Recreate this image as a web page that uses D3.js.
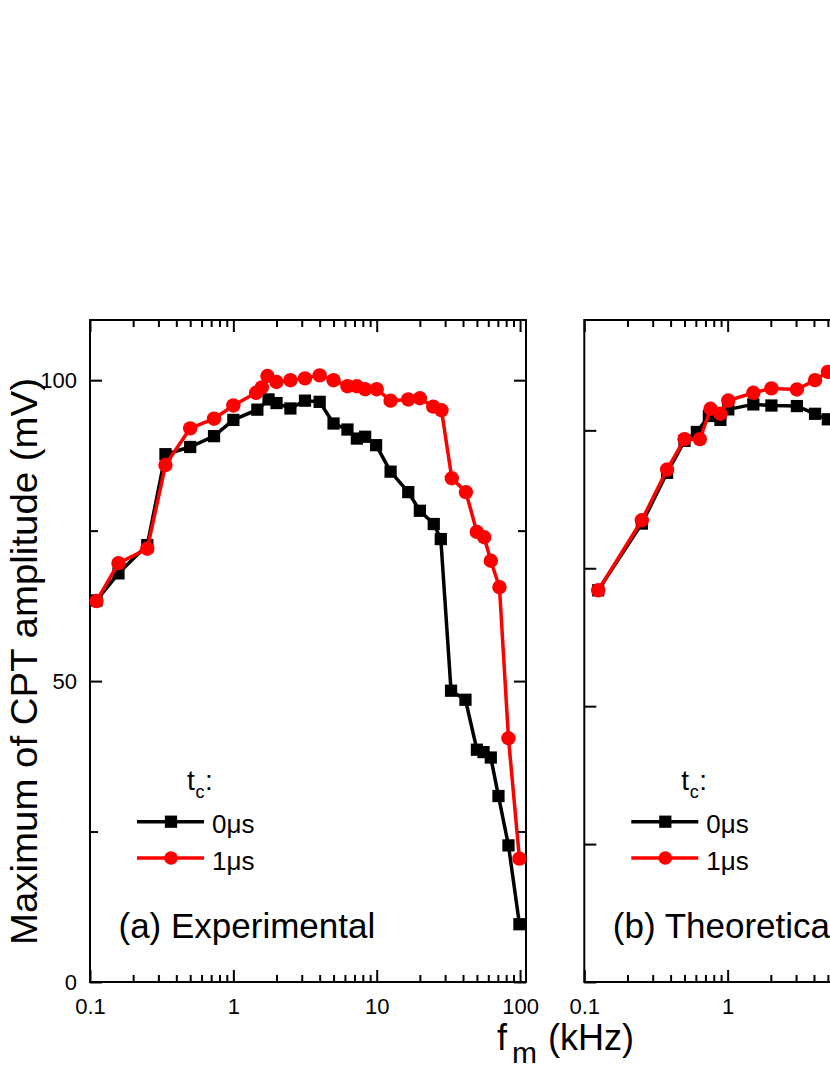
<!DOCTYPE html>
<html><head><meta charset="utf-8">
<script src="https://cdn.jsdelivr.net/npm/d3@7"></script>
<style>
body{margin:0;background:#fff}
svg{display:block}
text{font-family:"Liberation Sans",Arial,Helvetica,sans-serif;fill:#000}
</style>
</head><body>
<svg id="c" width="830" height="1075"></svg>
<script>
// ---------- data ----------
// Panel (a) Experimental
const freqA_0us = [0.111,0.158,0.251,0.336,0.5,0.733,1.0,1.47,1.76,2.0,2.5,3.16,4.0,5.0,6.25,7.27,8.3,9.9,12.5,16.6,20,25,28,33,41.6,50,55.6,62.5,70.7,83,99];
const ampA_0us  = [63.4,67.9,72.6,87.7,88.9,90.7,93.4,95.1,96.8,96.2,95.3,96.6,96.4,92.8,91.8,90.3,90.6,89.2,84.8,81.4,78.3,76.1,73.6,48.4,46.9,38.6,38.2,37.3,30.9,22.7,9.6];
const freqA_1us = [0.111,0.158,0.251,0.336,0.5,0.733,1.0,1.44,1.58,1.73,2.0,2.5,3.16,4.0,5.0,6.25,7.27,8.3,10,12.5,16.6,20,24.8,28.3,33.4,41.9,49.9,56.2,62.5,71.8,83,99];
const ampA_1us  = [63.3,69.6,72.0,85.9,92.0,93.6,95.8,97.9,98.8,100.7,99.7,100.0,100.3,100.8,100.0,99.0,99.0,98.5,98.5,96.6,96.8,97.0,95.6,95.0,83.7,81.4,74.8,73.9,70.0,65.6,40.5,20.5];
// Panel (b) Theoretical (arbitrary units, visible part)
const freqB_0us = [0.125,0.252,0.378,0.5,0.61,0.74,0.89,1.01,1.51,2.02,3.04,4.07,5.0];
const ampB_0us  = [0.710,0.831,0.923,0.981,0.997,1.026,1.019,1.038,1.047,1.045,1.044,1.030,1.020];
const freqB_1us = [0.125,0.252,0.378,0.5,0.64,0.76,0.89,1.01,1.51,2.02,3.04,4.07,5.0];
const ampB_1us  = [0.710,0.837,0.929,0.984,0.984,1.039,1.030,1.054,1.068,1.076,1.074,1.091,1.106];

const xMajor = [0.1,1,10,100];
const xMajorLabelsA = ["0.1","1","10","100"];
const xMajorLabelsB = ["0.1","1"];            // the rest lies outside the visible page
const xMinor = [0.2,0.3,0.4,0.5,0.6,0.7,0.8,0.9,2,3,4,5,6,7,8,9,20,30,40,50,60,70,80,90];
const yMajorA = [0,50,100];
const yMajorLabelsA = ["0","50","100"];
const yMinorA = [25,75];
const yMajorB = [0,0.25,0.5,0.75,1.0];
const seriesNames = ["0\u03BCs","1\u03BCs"];
const seriesColors = ["#000000","#ff0000"];
const panelTitles = ["(a) Experimental","(b) Theoretical"];
const xTitle = ["f","m"," (kHz)"];
const yTitle = "Maximum of CPT amplitude (mV)";

// ---------- layout ----------
const svg = d3.select("#c");
const TOP = 320, H = 662, W = 436;
const FONT = '"Liberation Sans",Arial,sans-serif';

function drawPanel(left, cfg){
  const g = svg.append("g").attr("transform", `translate(${left},${TOP})`);
  const x = d3.scaleLog().domain([0.1,110]).range([0,W]);
  const y = d3.scaleLinear().domain(cfg.yDomain).range([H,0]);

  g.append("rect").attr("x",0).attr("y",0).attr("width",W).attr("height",H)
    .attr("fill","none").attr("stroke","#000").attr("stroke-width",2);

  cfg.series.forEach((s,i)=>{
    const pts = s.f.map((f,k)=>[f,s.v[k]]);
    g.append("path").datum(pts)
      .attr("fill","none").attr("stroke",seriesColors[i]).attr("stroke-width",3.5)
      .attr("stroke-linejoin","round")
      .attr("d", d3.line().x(d=>x(d[0])).y(d=>y(d[1])));
    if(i===0){
      g.selectAll(null).data(pts).enter().append("path")
        .attr("transform",d=>`translate(${x(d[0])},${y(d[1])})`)
        .attr("d", d3.symbol(d3.symbolSquare, 150)())
        .attr("fill",seriesColors[i]);
    } else {
      g.selectAll(null).data(pts).enter().append("circle")
        .attr("cx",d=>x(d[0])).attr("cy",d=>y(d[1])).attr("r",7.2)
        .attr("fill",seriesColors[i]);
    }
  });

  const styleAxis = sel => {
    sel.select(".domain").remove();
    sel.selectAll(".tick line").attr("stroke","#000").attr("stroke-width",2);
    sel.selectAll("text").attr("font-family",FONT).attr("font-size",22).attr("fill","#000");
  };

  const labs = cfg.xLabels;
  g.append("g").attr("transform",`translate(0,${H})`)
    .call(d3.axisBottom(x).tickValues(xMajor.slice(0,labs.length)).tickSize(-12).tickSizeOuter(0).tickPadding(16)
      .tickFormat((d,i)=>labs[i])).call(styleAxis);
  if(labs.length < xMajor.length){
    g.append("g").attr("transform",`translate(0,${H})`)
      .call(d3.axisBottom(x).tickValues(xMajor.slice(labs.length)).tickSize(-12).tickSizeOuter(0).tickFormat("")).call(styleAxis);
  }
  g.append("g").attr("transform",`translate(0,${H})`)
    .call(d3.axisBottom(x).tickValues(xMinor).tickSize(-7).tickSizeOuter(0).tickFormat("")).call(styleAxis);
  g.append("g")
    .call(d3.axisTop(x).tickValues(xMajor).tickSize(-12).tickSizeOuter(0).tickFormat("")).call(styleAxis);
  g.append("g")
    .call(d3.axisTop(x).tickValues(xMinor).tickSize(-7).tickSizeOuter(0).tickFormat("")).call(styleAxis);

  const yl = d3.axisLeft(y).tickValues(cfg.yMajor).tickSize(-12).tickSizeOuter(0).tickPadding(13);
  if(cfg.yLabels) yl.tickFormat((d,i)=>cfg.yLabels[i]); else yl.tickFormat("");
  g.append("g").call(yl).call(styleAxis);
  g.append("g").attr("transform",`translate(${W},0)`)
    .call(d3.axisRight(y).tickValues(cfg.yMajor).tickSize(-12).tickSizeOuter(0).tickFormat("")).call(styleAxis);
  if(cfg.yMinor){
    g.append("g").call(d3.axisLeft(y).tickValues(cfg.yMinor).tickSize(-8).tickSizeOuter(0).tickFormat("")).call(styleAxis);
    g.append("g").attr("transform",`translate(${W},0)`)
      .call(d3.axisRight(y).tickValues(cfg.yMinor).tickSize(-8).tickSizeOuter(0).tickFormat("")).call(styleAxis);
  }

  // legend
  const lg = g.append("g");
  const tt = lg.append("text").attr("x",97).attr("y",470).attr("font-size",28);
  tt.append("tspan").text("t");
  tt.append("tspan").attr("x",105.5).attr("dy",8).attr("font-size",18).text("c");
  tt.append("tspan").attr("x",115).attr("dy",-8).text(":");
  const rows = [501.7, 538];
  rows.forEach((ry,i)=>{
    lg.append("line").attr("x1",47).attr("x2",114).attr("y1",ry).attr("y2",ry)
      .attr("stroke",seriesColors[i]).attr("stroke-width",3.5);
    if(i===0){
      lg.append("path").attr("transform",`translate(81,${ry})`)
        .attr("d",d3.symbol(d3.symbolSquare,150)()).attr("fill",seriesColors[i]);
    } else {
      lg.append("circle").attr("cx",81).attr("cy",ry).attr("r",6.8).attr("fill",seriesColors[i]);
    }
    lg.append("text").attr("x",122).attr("y",ry+11.5).attr("font-size",26).text(seriesNames[i]);
  });

  g.append("text").attr("x",28.5).attr("y",618).attr("font-size",35).text(cfg.title);
}

drawPanel(90, {
  yDomain:[0,110], yMajor:yMajorA, yLabels:yMajorLabelsA, yMinor:yMinorA, xLabels:xMajorLabelsA,
  series:[{f:freqA_0us,v:ampA_0us},{f:freqA_1us,v:ampA_1us}], title:panelTitles[0]
});
drawPanel(584.3, {
  yDomain:[0,1.2], yMajor:yMajorB, yLabels:null, yMinor:null, xLabels:xMajorLabelsB,
  series:[{f:freqB_0us,v:ampB_0us},{f:freqB_1us,v:ampB_1us}], title:panelTitles[1]
});

// axis titles
const xt = svg.append("text").attr("y",1050).attr("font-size",36);
xt.append("tspan").attr("x",497).text(xTitle[0]);
xt.append("tspan").attr("x",512).attr("dy",13).attr("font-size",30).text(xTitle[1]);
xt.append("tspan").attr("x",538).attr("dy",-13).text(xTitle[2]);

svg.append("text").attr("transform","translate(37,945) rotate(-90)")
  .attr("text-anchor","start").attr("font-size",36)
  .attr("textLength",567).attr("lengthAdjust","spacingAndGlyphs")
  .text(yTitle);
</script>
</body></html>
